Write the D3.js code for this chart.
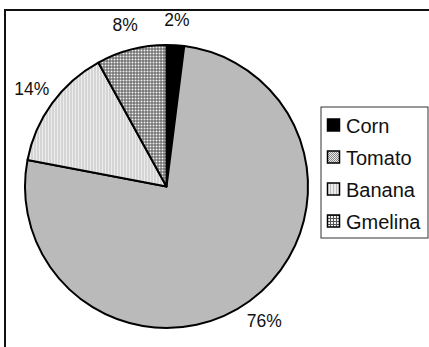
<!DOCTYPE html>
<html>
<head>
<meta charset="utf-8">
<script src="https://cdn.jsdelivr.net/npm/d3@7"></script>
<style>
  html, body { margin: 0; padding: 0; background: #fff; }
  svg { display: block; }
  text { font-family: "Liberation Sans", Arial, sans-serif; fill: #111; }
</style>
</head>
<body>
<script>
// Crop shares (percent), drawn clockwise from 12 o'clock
const categories = ["Corn", "Tomato", "Banana", "Gmelina"];
const shares = [2, 76, 14, 8];
const labels = ["2%", "76%", "14%", "8%"];

const W = 429, H = 347;
const svg = d3.select("body").append("svg").attr("width", W).attr("height", H);
const defs = svg.append("defs");

// Fill patterns, one per crop
function pattern(id, size, bg, draw) {
  const p = defs.append("pattern").attr("id", id)
    .attr("patternUnits", "userSpaceOnUse").attr("width", size).attr("height", size);
  p.append("rect").attr("width", size).attr("height", size).attr("fill", bg);
  draw(p);
}
pattern("pCorn", 4, "#000", () => {});
pattern("pTomato", 2, "#ebebeb", p => {
  p.append("rect").attr("x", 0).attr("y", 0).attr("width", 1).attr("height", 1).attr("fill", "#888");
  p.append("rect").attr("x", 1).attr("y", 1).attr("width", 1).attr("height", 1).attr("fill", "#888");
});
pattern("pBanana", 3, "#ececec", p => {
  p.append("rect").attr("x", 0).attr("y", 0).attr("width", 1).attr("height", 3).attr("fill", "#bdbdbd");
});
pattern("pGmelina", 3, "#f4f4f4", p => {
  p.append("rect").attr("x", 0).attr("y", 0).attr("width", 1).attr("height", 3).attr("fill", "#555");
  p.append("rect").attr("x", 0).attr("y", 0).attr("width", 3).attr("height", 1).attr("fill", "#555");
});
const fills = d3.scaleOrdinal().domain(categories)
  .range(["url(#pCorn)", "url(#pTomato)", "url(#pBanana)", "url(#pGmelina)"]);

// Outer chart frame (right and bottom edges run off the canvas)
svg.append("rect").attr("x", 5).attr("y", 10).attr("width", 600).attr("height", 600)
  .attr("fill", "none").attr("stroke", "#111").attr("stroke-width", 2);

// Pie
const cx = 166.5, cy = 186.5, R = 141.5;
const pie = d3.pie().sort(null).value(d => d.v);
const arcs = pie(categories.map((c, i) => ({ c, v: shares[i], l: labels[i] })));
const arc = d3.arc().innerRadius(0).outerRadius(R);
const g = svg.append("g").attr("transform", `translate(${cx},${cy})`);
g.selectAll("path").data(arcs).join("path")
  .attr("d", arc)
  .attr("fill", d => fills(d.data.c))
  .attr("stroke", "#000").attr("stroke-width", 2).attr("stroke-linejoin", "round");

// Percentage labels outside the rim
const labelArc = d3.arc().innerRadius(R + 25).outerRadius(R + 25);
g.selectAll("text.pct").data(arcs).join("text")
  .attr("class", "pct")
  .attr("transform", d => {
    const [x, y] = labelArc.centroid(d);
    return `translate(${x},${y})`;
  })
  .attr("text-anchor", "middle").attr("dominant-baseline", "central")
  .attr("font-size", 17.5)
  .text(d => d.data.l);

// Legend
const lg = svg.append("g");
lg.append("rect").attr("x", 321).attr("y", 107).attr("width", 107).attr("height", 131)
  .attr("fill", "#fff").attr("stroke", "#333").attr("stroke-width", 1);
const ly = d3.scalePoint().domain(categories).range([125, 221]);
const items = lg.selectAll("g.item").data(categories).join("g").attr("class", "item")
  .attr("transform", d => `translate(327,${ly(d)})`);
items.append("rect").attr("x", 0.5).attr("y", -6).attr("width", 12).attr("height", 12)
  .attr("fill", d => fills(d)).attr("stroke", "#000").attr("stroke-width", 1.5);
items.append("text").attr("x", 19).attr("y", 1).attr("dominant-baseline", "central")
  .attr("font-size", 20).text(d => d);
</script>
</body>
</html>
